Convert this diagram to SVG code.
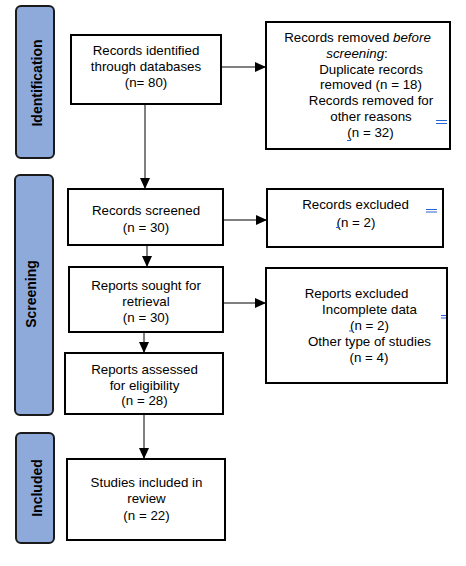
<svg xmlns="http://www.w3.org/2000/svg" width="466" height="566" viewBox="0 0 466 566">
<style>
.bg{fill:#ffffff}
.side{fill:#8eaadb;stroke:#1a1a1a;stroke-width:2}
.box{fill:#ffffff;stroke:#000000;stroke-width:2}
.t{font-family:"Liberation Sans",Arial,sans-serif;font-size:13.33px;fill:#000000;text-anchor:middle}
.st{font-family:"Liberation Sans",Arial,sans-serif;font-size:14px;font-weight:bold;fill:#000000;text-anchor:middle}
.edge{stroke:#000000;stroke-width:1;fill:none;marker-end:url(#ah)}
.mk{stroke:#2a63d6;stroke-width:1;fill:none}
</style>
<defs>
<marker id="ah" viewBox="0 0 11 10" refX="11" refY="5" markerWidth="11" markerHeight="10" markerUnits="userSpaceOnUse" orient="auto">
<path d="M0,0 L11,5 L0,10 Z" fill="#000000"/>
</marker>
</defs>
<rect class="bg" x="0" y="0" width="466" height="566"/>

<g id="side-identification">
<rect class="side" x="16" y="6" width="38" height="152" rx="5"/>
<text class="st" transform="translate(42,83) rotate(-90)">Identification</text>
</g>
<g id="side-screening">
<rect class="side" x="15" y="175" width="38" height="240" rx="5"/>
<text class="st" transform="translate(35.5,294) rotate(-90)">Screening</text>
</g>
<g id="side-included">
<rect class="side" x="16" y="433" width="38" height="110" rx="5"/>
<text class="st" transform="translate(42,488) rotate(-90)">Included</text>
</g>

<g id="connectors">
<line class="edge" x1="145" y1="104" x2="145" y2="189"/>
<line class="edge" x1="221" y1="67" x2="266" y2="67"/>
<line class="edge" x1="223" y1="220" x2="267" y2="220"/>
<line class="edge" x1="147" y1="245" x2="147" y2="267"/>
<line class="edge" x1="223" y1="303" x2="266" y2="303"/>
<line class="edge" x1="144" y1="332" x2="144" y2="353"/>
<line class="edge" x1="144" y1="414" x2="144" y2="459"/>
</g>

<g id="records-identified">
<rect class="box" x="71" y="35" width="150" height="69"/>
<text class="t" x="146" y="55">Records identified</text>
<text class="t" x="146" y="71">through databases</text>
<text class="t" x="146" y="87">(n= 80)</text>
</g>

<g id="records-removed">
<rect class="box" x="266" y="22" width="184" height="127"/>
<text class="t" x="357.5" y="41.5">Records removed <tspan font-style="italic">before</tspan></text>
<text class="t" x="357" y="57.5"><tspan font-style="italic">screening</tspan>:</text>
<text class="t" x="371" y="73.5">Duplicate records</text>
<text class="t" x="371" y="89">removed (n = 18)</text>
<text class="t" x="371" y="105">Records removed for</text>
<text class="t" x="371" y="121">other reasons</text>
<text class="t" x="370.5" y="137">(n = 32)</text>
<path class="mk" d="M436,120.5 H447 M436,123.5 H447 M347,140.5 H351"/>
</g>

<g id="records-screened">
<rect class="box" x="68" y="189" width="155" height="56"/>
<text class="t" x="146" y="215">Records screened</text>
<text class="t" x="146" y="232">(n = 30)</text>
</g>

<g id="records-excluded">
<rect class="box" x="267" y="189" width="176" height="58"/>
<text class="t" x="355.5" y="209">Records excluded</text>
<text class="t" x="356" y="227">(n = 2)</text>
<path class="mk" d="M426,209.5 H437 M426,212 H437 M336,227.5 H340"/>
</g>

<g id="reports-sought">
<rect class="box" x="69" y="267" width="154" height="65"/>
<text class="t" x="146" y="290">Reports sought for</text>
<text class="t" x="146" y="306">retrieval</text>
<text class="t" x="146" y="322">(n = 30)</text>
</g>

<g id="reports-excluded">
<rect class="box" x="266" y="268" width="181" height="115"/>
<text class="t" x="356.5" y="298">Reports excluded</text>
<text class="t" x="369.5" y="314">Incomplete data</text>
<text class="t" x="369.5" y="330">(n = 2)</text>
<text class="t" x="369.5" y="346">Other type of studies</text>
<text class="t" x="369" y="362">(n = 4)</text>
<path class="mk" d="M441,315.5 H446 M441,318 H446 M349,331 H353"/>
</g>

<g id="reports-assessed">
<rect class="box" x="65" y="353" width="158" height="61"/>
<text class="t" x="144.5" y="374">Reports assessed</text>
<text class="t" x="144.5" y="390">for eligibility</text>
<text class="t" x="144.5" y="405">(n = 28)</text>
</g>

<g id="studies-included">
<rect class="box" x="67" y="459" width="158" height="81"/>
<text class="t" x="146.5" y="487">Studies included in</text>
<text class="t" x="146.5" y="503">review</text>
<text class="t" x="146.5" y="520">(n = 22)</text>
</g>
</svg>
